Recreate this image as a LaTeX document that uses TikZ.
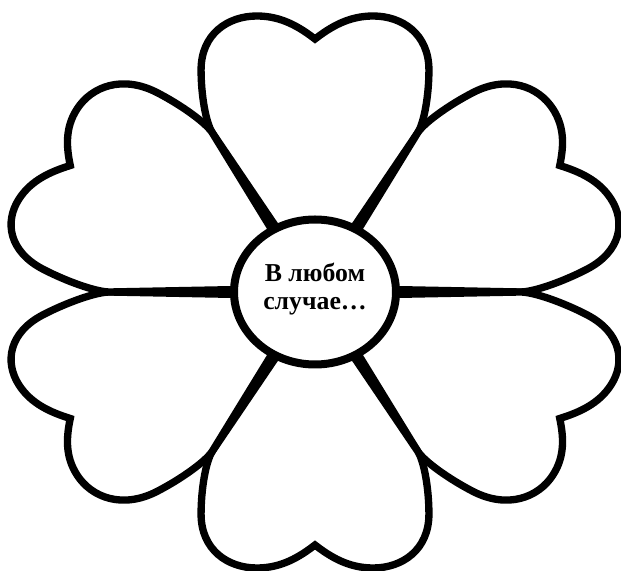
\documentclass[tikz,border=0pt]{standalone}
\usepackage{fontspec}
\setmainfont{Liberation Serif}
\usetikzlibrary{shapes.geometric}

\begin{document}
\begin{tikzpicture}[x=0.3mm,y=0.3mm,
  petal/.style={draw=black,fill=white,line width=2.2mm,line join=miter,miter limit=12},
  core/.style={ellipse,draw=black,fill=white,line width=2.4mm,minimum width=48.6mm,minimum height=43.5mm,align=center,inner sep=0pt,text depth=10pt,font=\fontsize{22}{24.5}\selectfont\bfseries}]
  \fill[white] (0,0) rectangle (621,571);
  \useasboundingbox (0,0) rectangle (621,571);
  % six heart petals around the middle
  \begin{scope}[shift={(315,279)},xscale=1.117]
    \foreach \a in {90,30,-30,-90,-150,150}{
      \begin{scope}[rotate=\a-90]
        \draw[petal] (117.8:66) -- (120:184)
          .. controls (-98,170) and (-102,198) .. (-102,222)
          .. controls (-102,258) and (-78,276) .. (-52,276)
          .. controls (-30,276) and (-14,265) .. (0,253)
          .. controls (14,265) and (30,276) .. (52,276)
          .. controls (78,276) and (102,258) .. (102,222)
          .. controls (102,198) and (98,170) .. (60:184)
          -- (62.2:66) -- cycle;
      \end{scope}}
  \end{scope}
  \node[core] (mid) at (315,279) {В любом\\случае…};
\end{tikzpicture}
\end{document}
